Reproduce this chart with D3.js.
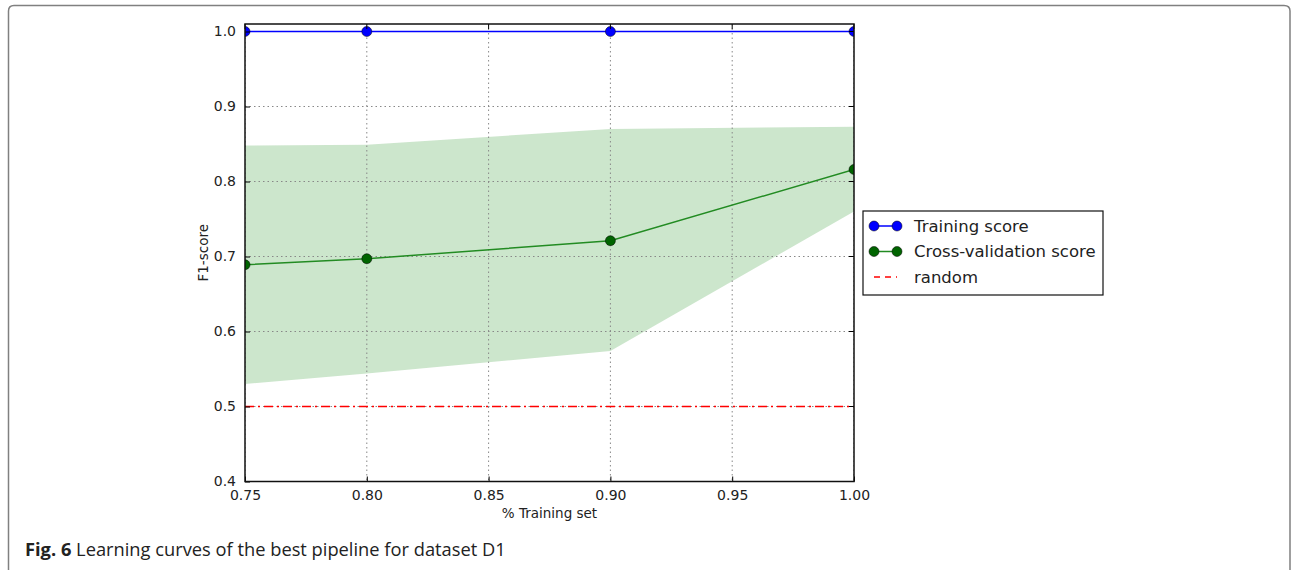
<!DOCTYPE html>
<html>
<head>
<meta charset="utf-8">
<script src="https://cdn.jsdelivr.net/npm/d3@7"></script>
<style>
body{margin:0;background:#fff;}
</style>
</head>
<body>
<div id="chart"></div>
<script>
// learning curve data
var trainSizes = [0.75, 0.80, 0.90, 1.00];
var trainScore = [1.0, 1.0, 1.0, 1.0];
var cvScore = [0.689, 0.697, 0.721, 0.816];
var cvUpper = [0.848, 0.849, 0.870, 0.873];
var cvLower = [0.530, 0.544, 0.574, 0.760];
var randomScore = 0.5;
var xTicks = [0.75, 0.80, 0.85, 0.90, 0.95, 1.00];
var yTicks = [0.4, 0.5, 0.6, 0.7, 0.8, 0.9, 1.0];
var legendLabels = ["Training score", "Cross-validation score", "random"];

var width = 1292, height = 570;
var marge = {top:24, left:245, right:854, bottom:481.5};

var svg = d3.select("#chart").append("svg")
    .attr("width", width)
    .attr("height", height);

svg.append("clipPath").attr("id", "plotclip")
    .append("rect")
    .attr("x", marge.left).attr("y", marge.top)
    .attr("width", marge.right - marge.left).attr("height", marge.bottom - marge.top);

// outer frame
svg.append("path")
    .attr("d", "M8.5,575 L8.5,11 Q8.5,5.5 14,5.5 L1284,5.5 Q1290,5.5 1290,11 L1290,575")
    .attr("fill", "none")
    .attr("stroke", "#808080")
    .attr("stroke-width", 1.5);

var xScale = d3.scaleLinear().domain([0.75, 1.0]).range([marge.left, marge.right]);
var yScale = d3.scaleLinear().domain([0.4, 1.01]).range([marge.bottom, marge.top]);

var plot = svg.append("g").attr("clip-path", "url(#plotclip)");

// band
var area = d3.area()
    .x(function(d, i){ return xScale(trainSizes[i]); })
    .y0(function(d, i){ return yScale(cvLower[i]); })
    .y1(function(d, i){ return yScale(cvUpper[i]); });
plot.append("path")
    .datum(trainSizes)
    .attr("d", area)
    .attr("fill", "#008000")
    .attr("fill-opacity", 0.2)
    .attr("stroke", "none");

// grid
plot.append("g").selectAll("line").data(xTicks).enter().append("line")
    .attr("x1", function(d){ return xScale(d); })
    .attr("x2", function(d){ return xScale(d); })
    .attr("y1", marge.top).attr("y2", marge.bottom)
    .attr("stroke", "#888").attr("stroke-width", 1)
    .attr("stroke-dasharray", "1.5,3");
plot.append("g").selectAll("line").data(yTicks).enter().append("line")
    .attr("y1", function(d){ return yScale(d); })
    .attr("y2", function(d){ return yScale(d); })
    .attr("x1", marge.left).attr("x2", marge.right)
    .attr("stroke", "#888").attr("stroke-width", 1)
    .attr("stroke-dasharray", "1.5,3");

// random line
plot.append("line")
    .attr("x1", marge.left).attr("x2", marge.right)
    .attr("y1", yScale(randomScore)).attr("y2", yScale(randomScore))
    .attr("stroke", "#ff0000").attr("stroke-width", 1.5)
    .attr("stroke-dasharray", "9,4,2,4");

var line = d3.line()
    .x(function(d){ return xScale(d[0]); })
    .y(function(d){ return yScale(d[1]); });

function series(vals, color, dot){
    var pts = trainSizes.map(function(x, i){ return [x, vals[i]]; });
    plot.append("path").datum(pts)
        .attr("d", line)
        .attr("fill", "none")
        .attr("stroke", color)
        .attr("stroke-width", 1.5);
    plot.append("g").selectAll("circle").data(pts).enter().append("circle")
        .attr("cx", function(d){ return xScale(d[0]); })
        .attr("cy", function(d){ return yScale(d[1]); })
        .attr("r", 5)
        .attr("fill", dot)
        .attr("stroke", "#000")
        .attr("stroke-width", 0.5);
}
series(trainScore, "#0000ff", "#0000ff");
series(cvScore, "#228b22", "#006400");

// axes
var xAxis = d3.axisBottom(xScale).tickValues(xTicks).tickFormat(d3.format(".2f"))
    .tickSizeInner(-5).tickSizeOuter(0).tickPadding(9);
var yAxis = d3.axisLeft(yScale).tickValues(yTicks).tickFormat(d3.format(".1f"))
    .tickSizeInner(-5).tickSizeOuter(0).tickPadding(9);

var gx = svg.append("g").attr("transform", "translate(0," + marge.bottom + ")").call(xAxis);
var gy = svg.append("g").attr("transform", "translate(" + marge.left + ",0)").call(yAxis);
[gx, gy].forEach(function(g){
    g.select(".domain").remove();
    g.selectAll("text").attr("font-family", "DejaVu Sans").attr("font-size", 14).attr("fill", "#222");
    g.selectAll(".tick line").attr("stroke", "#000");
});
// top and right ticks
svg.append("g").selectAll("line").data(xTicks).enter().append("line")
    .attr("x1", function(d){ return xScale(d); }).attr("x2", function(d){ return xScale(d); })
    .attr("y1", marge.top).attr("y2", marge.top + 5).attr("stroke", "#000");
svg.append("g").selectAll("line").data(yTicks).enter().append("line")
    .attr("y1", function(d){ return yScale(d); }).attr("y2", function(d){ return yScale(d); })
    .attr("x1", marge.right).attr("x2", marge.right - 5).attr("stroke", "#000");

svg.append("rect")
    .attr("x", marge.left).attr("y", marge.top)
    .attr("width", marge.right - marge.left).attr("height", marge.bottom - marge.top)
    .attr("fill", "none").attr("stroke", "#111").attr("stroke-width", 1.5);

// axis labels
svg.append("text")
    .attr("x", (marge.left + marge.right) / 2).attr("y", 518)
    .attr("text-anchor", "middle")
    .attr("font-family", "DejaVu Sans").attr("font-size", 13.5).attr("fill", "#222")
    .text("% Training set");
svg.append("text")
    .attr("transform", "translate(208," + (marge.top + marge.bottom) / 2 + ") rotate(-90)")
    .attr("text-anchor", "middle")
    .attr("font-family", "DejaVu Sans").attr("font-size", 13.5).attr("fill", "#222")
    .text("F1-score");

// legend
var lg = svg.append("g").attr("transform", "translate(863,211)");
lg.append("rect").attr("width", 240).attr("height", 84)
    .attr("fill", "#fff").attr("stroke", "#111").attr("stroke-width", 1.2);
var lcol = [["#0000ff", "#0000ff"], ["#228b22", "#006400"], ["#ff0000", null]];
legendLabels.forEach(function(t, i){
    var y = 15 + i * 25.5;
    if (lcol[i][1]) {
        lg.append("line").attr("x1", 11).attr("x2", 34).attr("y1", y).attr("y2", y)
            .attr("stroke", lcol[i][0]).attr("stroke-width", 1.5);
        [11, 34].forEach(function(cx){
            lg.append("circle").attr("cx", cx).attr("cy", y).attr("r", 5)
                .attr("fill", lcol[i][1]).attr("stroke", "#000").attr("stroke-width", 0.5);
        });
    } else {
        lg.append("line").attr("x1", 11).attr("x2", 34).attr("y1", y).attr("y2", y)
            .attr("stroke", lcol[i][0]).attr("stroke-width", 1.5)
            .attr("stroke-dasharray", "6,5");
    }
    lg.append("text").attr("x", 51).attr("y", y + 5.5)
        .attr("font-family", "DejaVu Sans").attr("font-size", 16.5).attr("fill", "#222")
        .text(t);
});

// caption
var cap = svg.append("text").attr("x", 25).attr("y", 556)
    .attr("font-family", "Open Sans").attr("font-size", 18.3).attr("fill", "#222");
cap.append("tspan").attr("font-weight", "bold").text("Fig. 6");
cap.append("tspan").text(" Learning curves of the best pipeline for dataset D1");
</script>
</body>
</html>
